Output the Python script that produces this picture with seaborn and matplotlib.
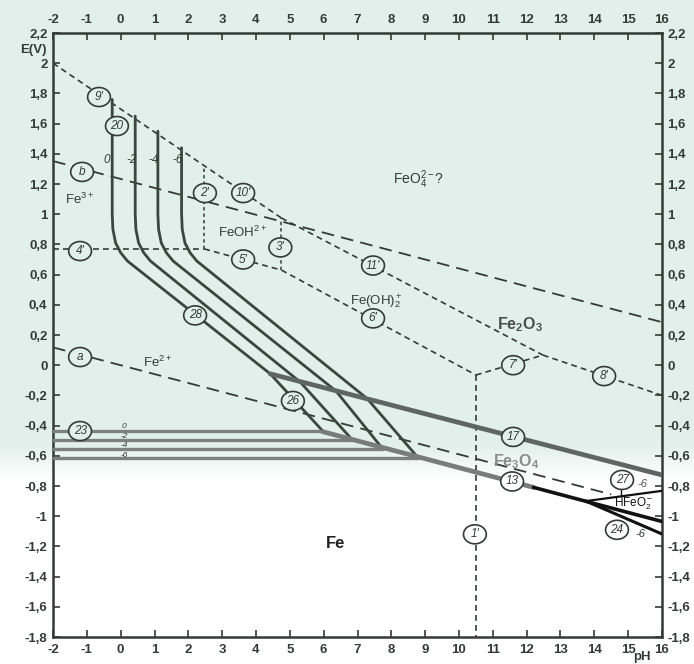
import matplotlib
matplotlib.use("Agg")
import matplotlib.pyplot as plt
import numpy as np
import seaborn as sns

sns.set_theme(style="white")
plt.rcParams["font.family"] = ["Liberation Sans", "DejaVu Sans"]
plt.rcParams["mathtext.fontset"] = "custom"
plt.rcParams["mathtext.rm"] = "Liberation Sans"
plt.rcParams["mathtext.it"] = "Liberation Sans:italic"
plt.rcParams["mathtext.bf"] = "Liberation Sans:bold"

# ---------------- axes ticks ----------------
ph_ticks = list(range(-2, 17))
e_ticks = [2.2, 2.0, 1.8, 1.6, 1.4, 1.2, 1.0, 0.8, 0.6, 0.4, 0.2, 0.0,
           -0.2, -0.4, -0.6, -0.8, -1.0, -1.2, -1.4, -1.6, -1.8]
e_tick_labels = ["2,2", "2", "1,8", "1,6", "1,4", "1,2", "1", "0,8", "0,6",
                 "0,4", "0,2", "0", "-0,2", "-0,4", "-0,6", "-0,8", "-1",
                 "-1,2", "-1,4", "-1,6", "-1,8"]

# ---------------- water lines (a: H2, b: O2) ----------------
ph_a = [-2, 14.5]
e_a = [0.118, -0.856]
ph_b = [-2, 16]
e_b = [1.352, 0.285]

# ---------------- dissolved-species boundaries ----------------
ph_9p = [-2, 4.75]
e_9p = [2.0, 0.975]
ph_11p = [4.75, 12.48]
e_11p = [0.975, 0.067]
ph_8p = [12.48, 16]
e_8p = [0.067, -0.20]
ph_7p = [10.5, 12.48]
e_7p = [-0.065, 0.067]
ph_6p = [4.75, 10.5]
e_6p = [0.63, -0.065]
ph_5p = [2.47, 4.75]
e_5p = [0.77, 0.63]
ph_4p = [-2, 2.47]
e_4p = [0.77, 0.77]
ph_2p = [2.47, 2.47]
e_2p = [0.77, 1.315]
ph_3p = [4.75, 4.75]
e_3p = [0.63, 0.975]
ph_1p = [10.5, 10.5]
e_1p = [-0.065, -1.8]

# ---------------- Fe2O3 / dissolved iron (lines 20 + 28), log c = 0, -2, -4, -6
ph_20_0 = [-0.25, -0.25, -0.23, -0.15, 0.00, 0.20, 4.42]
e_20_0 = [1.76, 1.00, 0.90, 0.81, 0.745, 0.69, -0.057]
ph_20_2 = [0.43, 0.43, 0.45, 0.53, 0.68, 0.88, 5.30]
e_20_2 = [1.65, 1.00, 0.90, 0.81, 0.745, 0.69, -0.11]
ph_20_4 = [1.10, 1.10, 1.12, 1.20, 1.35, 1.55, 6.36]
e_20_4 = [1.55, 1.00, 0.90, 0.81, 0.745, 0.69, -0.17]
ph_20_6 = [1.80, 1.80, 1.82, 1.90, 2.05, 2.25, 7.28]
e_20_6 = [1.44, 1.00, 0.90, 0.81, 0.745, 0.69, -0.22]

# ---------------- Fe3O4 / Fe2+ (line 26)
ph_26_0 = [4.42, 5.97]
e_26_0 = [-0.057, -0.435]
ph_26_2 = [5.30, 6.85]
e_26_2 = [-0.11, -0.495]
ph_26_4 = [6.36, 7.75]
e_26_4 = [-0.17, -0.555]
ph_26_6 = [7.28, 8.80]
e_26_6 = [-0.22, -0.615]

# ---------------- Fe / Fe2+ (line 23)
ph_23_0 = [-2, 5.97]
e_23_0 = [-0.435, -0.435]
ph_23_2 = [-2, 6.85]
e_23_2 = [-0.495, -0.495]
ph_23_4 = [-2, 7.75]
e_23_4 = [-0.555, -0.555]
ph_23_6 = [-2, 8.80]
e_23_6 = [-0.615, -0.615]

# ---------------- solid oxide boundaries
ph_17 = [4.42, 16]
e_17 = [-0.057, -0.727]
ph_13_grey = [5.97, 12.2]
e_13_grey = [-0.44, -0.809]
ph_13_black = [12.2, 16]
e_13_black = [-0.809, -1.035]
ph_27 = [13.75, 16]
e_27 = [-0.90, -0.832]
ph_24 = [13.75, 16]
e_24 = [-0.90, -1.118]
ph_27_lead = [14.78, 14.78]
e_27_lead = [-0.80, -0.868]

# ---------------- circled line numbers
circle_text = ["9'", "20", "b", "2'", "10'", "3'", "5'", "4'", "11'", "6'",
               "28", "a", "26", "7'", "8'", "23", "17", "13", "27", "24", "1'"]
circle_ph = [-0.64, -0.11, -1.14, 2.49, 3.62, 4.72, 3.62, -1.2, 7.46, 7.46,
             2.2, -1.2, 5.09, 11.6, 14.29, -1.2, 11.6, 11.57, 14.82, 14.67, 10.47]
circle_e = [1.776, 1.584, 1.28, 1.14, 1.14, 0.78, 0.70, 0.756, 0.66, 0.31,
            0.33, 0.054, -0.237, 0.0, -0.072, -0.436, -0.475, -0.77, -0.76, -1.09, -1.12]

# ---------------- concentration labels
conc_text = ["0", "-2", "-4", "-6"]
conc_top_ph = [-0.4, 0.33, 0.98, 1.68]
conc_top_e = [1.36, 1.36, 1.36, 1.36]
conc_low_ph = [0.1, 0.1, 0.1, 0.1]
conc_low_e = [-0.405, -0.472, -0.535, -0.595]

MINT = np.array([226, 240, 235]) / 255
DARK = "#343b37"
LINE = "#3a4640"

fig = plt.figure(figsize=(6.94, 6.64), dpi=100)
fig.patch.set_facecolor("white")

# paper tint: mint above, white towards the bottom
bg = fig.add_axes([0, 0, 1, 1], zorder=0)
rows = np.arange(664)
t = np.clip((rows - 445) / 35.0, 0, 1)[:, None]
grad = (MINT[None, :] * (1 - t) + t)[:, None, :]
bg.imshow(grad, aspect="auto", extent=[0, 1, 0, 1])
bg.axis("off")

ax = fig.add_axes([53 / 694, 1 - 637 / 664, 609 / 694, 604 / 664], zorder=1)
ax.set_facecolor("none")


def draw(ph, e, **kw):
    sns.lineplot(x=ph, y=e, ax=ax, sort=False, estimator=None, legend=False, **kw)


# water lines
for ph, e in [(ph_a, e_a), (ph_b, e_b)]:
    draw(ph, e, color=DARK, lw=1.3, linestyle=(0, (7, 4)), zorder=2)

# species boundaries
for ph, e in [(ph_9p, e_9p), (ph_11p, e_11p), (ph_8p, e_8p), (ph_7p, e_7p),
              (ph_6p, e_6p), (ph_5p, e_5p), (ph_4p, e_4p), (ph_1p, e_1p)]:
    draw(ph, e, color=DARK, lw=1.2, linestyle=(0, (3.5, 2.5)), zorder=2)
for ph, e in [(ph_2p, e_2p), (ph_3p, e_3p)]:
    draw(ph, e, color=DARK, lw=1.1, linestyle=(0, (2.2, 2)), zorder=2)

# Fe2O3 / Fe3+, Fe2+ curves and Fe3O4 / Fe2+ lines
for ph, e in [(ph_20_0, e_20_0), (ph_20_2, e_20_2), (ph_20_4, e_20_4), (ph_20_6, e_20_6),
              (ph_26_0, e_26_0), (ph_26_2, e_26_2), (ph_26_4, e_26_4), (ph_26_6, e_26_6)]:
    draw(ph, e, color=LINE, lw=2.0, zorder=3)

# Fe / Fe2+
for ph, e in [(ph_23_0, e_23_0), (ph_23_2, e_23_2), (ph_23_4, e_23_4), (ph_23_6, e_23_6)]:
    draw(ph, e, color="#7d807e", lw=2.4, zorder=3)

draw(ph_17, e_17, color="#5f6562", lw=3.4, zorder=3)
draw(ph_13_grey, e_13_grey, color="#7a7c7b", lw=3.4, zorder=3)
draw(ph_13_black, e_13_black, color="#111111", lw=2.6, zorder=3)
draw(ph_27, e_27, color="#111111", lw=1.6, zorder=3)
draw(ph_24, e_24, color="#111111", lw=2.2, zorder=3)
draw(ph_27_lead, e_27_lead, color="#111111", lw=1.0, zorder=3)

# circled numbers: slightly wide ellipse markers with the number on top
theta = np.linspace(0, 2 * np.pi, 60)
ellipse_marker = np.column_stack([1.2 * np.cos(theta), np.sin(theta)])
fills = ["white" if y < -0.7 else MINT for y in circle_e]
ax.scatter(circle_ph, circle_e, s=270, marker=ellipse_marker, c=fills,
           edgecolors=DARK, linewidths=1.2, zorder=5)
for s, x, y in zip(circle_text, circle_ph, circle_e):
    ax.text(x, y, s, ha="center", va="center", fontsize=8.5, style="italic",
            color=DARK, zorder=6)

for s, x, y in zip(conc_text, conc_top_ph, conc_top_e):
    ax.text(x, y, s, ha="center", va="center", fontsize=8.5, style="italic",
            color=DARK, zorder=5)
for s, x, y in zip(conc_text, conc_low_ph, conc_low_e):
    ax.text(x, y, s, ha="center", va="center", fontsize=6, style="italic",
            color=DARK, zorder=5)
ax.text(15.41, -0.79, "-6", ha="center", va="center", fontsize=8, style="italic",
        color="#555555", zorder=5)
ax.text(15.35, -1.12, "-6", ha="center", va="center", fontsize=8, style="italic",
        color=DARK, zorder=5)

# species / phase names
ax.text(-1.2, 1.10, r"Fe$^{3+}$", ha="center", va="center", fontsize=9.5, color=DARK, zorder=5)
ax.text(1.1, 0.02, r"Fe$^{2+}$", ha="center", va="center", fontsize=9.5, color=DARK, zorder=5)
ax.text(3.6, 0.88, r"FeOH$^{2+}$", ha="center", va="center", fontsize=9.5, color=DARK, zorder=5)
ax.text(7.56, 0.42, r"Fe(OH)$_2^+$", ha="center", va="center", fontsize=9.5, color=DARK, zorder=5)
ax.text(8.8, 1.23, r"FeO$_4^{2-}$?", ha="center", va="center", fontsize=10, color=DARK, zorder=5)
ax.text(11.8, 0.266, r"$\mathbf{Fe_2O_3}$", ha="center", va="center", fontsize=11.5,
        color="#4a4f4c", zorder=5)
ax.text(11.7, -0.64, r"$\mathbf{Fe_3O_4}$", ha="center", va="center", fontsize=11.5,
        color="#8a8c8b", zorder=5)
ax.text(6.35, -1.18, "Fe", ha="center", va="center", fontsize=12, fontweight="bold",
        color="#222222", zorder=5)
ax.text(15.17, -0.915, r"HFeO$_2^-$", ha="center", va="center", fontsize=8.5,
        color="#111111", zorder=5)

# axes frame
ax.set_xlim(-2, 16)
ax.set_ylim(-1.8, 2.2)
for sp in ax.spines.values():
    sp.set_visible(True)
    sp.set_color(DARK)
    sp.set_linewidth(1.8)
ax.set_xticks(ph_ticks)
ax.set_xticklabels([str(v) for v in ph_ticks])
ax.set_yticks(e_ticks)
ax.set_yticklabels(e_tick_labels)
ax.tick_params(axis="both", which="major", direction="in", length=5, width=1.2,
               color=DARK, labelcolor=DARK, labelsize=9.5,
               bottom=True, top=True, left=True, right=True,
               labelbottom=True, labeltop=True, labelleft=True, labelright=True)
ax.tick_params(axis="x", pad=5)
ax.tick_params(axis="y", pad=4)
for tk in ax.xaxis.get_major_ticks() + ax.yaxis.get_major_ticks():
    tk.label1.set_fontweight("bold")
    tk.label2.set_fontweight("bold")
ax.set_xlabel("")
ax.set_ylabel("")

fig.text(20 / 694, 1 - 50 / 664, "E(V)", ha="left", va="center", fontsize=9.5,
         fontweight="bold", color=DARK)
fig.text(642 / 694, 1 - 657 / 664, "pH", ha="center", va="center", fontsize=9.5,
         fontweight="bold", color=DARK)

fig.savefig("out.png", dpi=100, facecolor=fig.get_facecolor())
